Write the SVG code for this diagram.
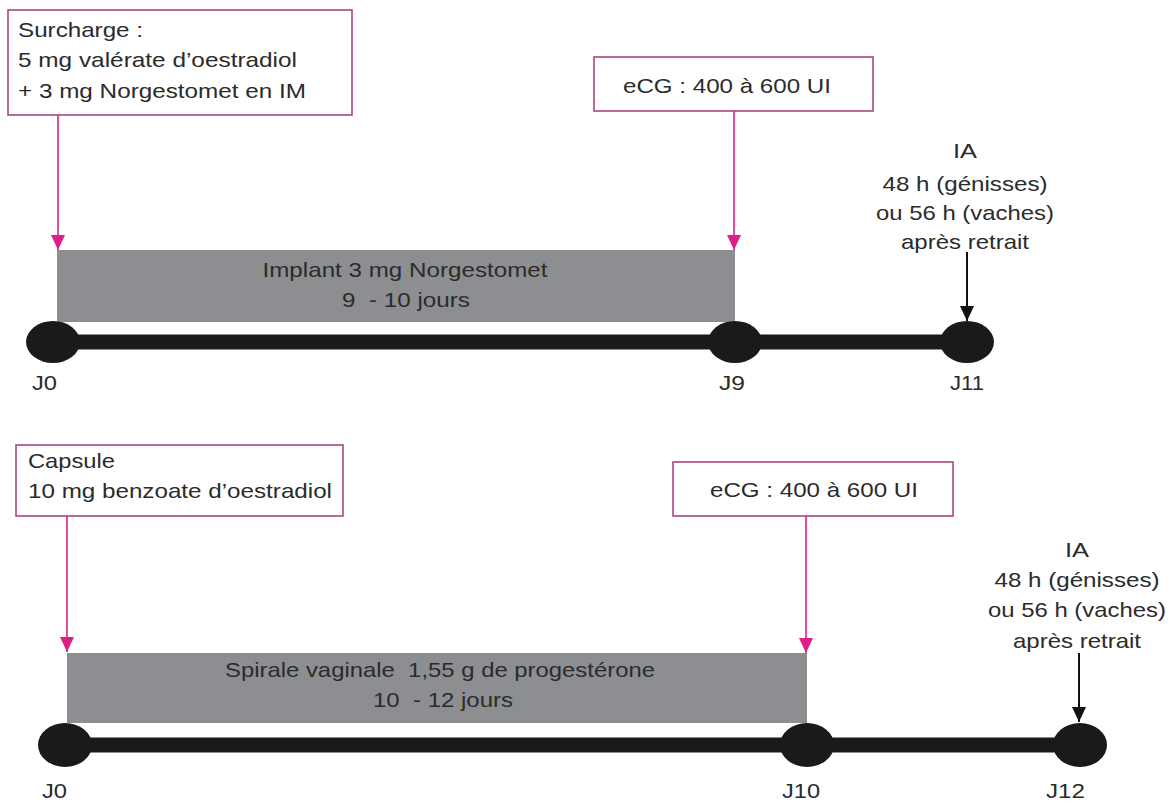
<svg xmlns="http://www.w3.org/2000/svg" width="1175" height="805" viewBox="0 0 1175 805">
<style>
text { font-family: "Liberation Sans", Arial, sans-serif; font-size: 21px; fill: #2b2b2b; white-space: pre; }
.lbl { font-size: 20px; }
.box { fill: #ffffff; stroke: #a9467f; stroke-width: 1.6; }
.bar { fill: #8d8e91; }
.pink { stroke: #df1f88; stroke-width: 1.6; fill: none; }
.blk { stroke: #111111; stroke-width: 2; fill: none; }
.axis { stroke: #1a1a1a; stroke-width: 15; }
.dot { fill: #1a1a1a; }
</style>
<defs>
<marker id="ap" markerUnits="userSpaceOnUse" markerWidth="14" markerHeight="16" refX="7" refY="15" viewBox="0 0 14 16">
<path d="M0,0 L14,0 L7,15 Z" fill="#df1f88"/>
</marker>
<marker id="ab" markerUnits="userSpaceOnUse" markerWidth="14" markerHeight="16" refX="7" refY="15" viewBox="0 0 14 16">
<path d="M0,0 L14,0 L7,15 Z" fill="#111111"/>
</marker>
</defs>
<rect width="1175" height="805" fill="#ffffff"/>

<!-- Top protocol -->
<g id="surcharge">
<rect class="box" x="8" y="10" width="344" height="105"/>
<text x="18" y="37" textLength="125" lengthAdjust="spacingAndGlyphs">Surcharge :</text>
<text x="18" y="67" textLength="279" lengthAdjust="spacingAndGlyphs">5 mg valérate d’oestradiol</text>
<text x="18" y="98" textLength="288" lengthAdjust="spacingAndGlyphs">+ 3 mg Norgestomet en IM</text>
</g>
<g id="ecg1">
<rect class="box" x="594" y="57" width="279" height="54"/>
<text x="727" y="93" text-anchor="middle" textLength="208" lengthAdjust="spacingAndGlyphs">eCG : 400 à 600 UI</text>
</g>
<g id="implant">
<rect class="bar" x="57" y="250" width="678" height="72"/>
<text x="405" y="277" text-anchor="middle" textLength="285" lengthAdjust="spacingAndGlyphs">Implant 3 mg Norgestomet</text>
<text x="406" y="307" text-anchor="middle" textLength="128" lengthAdjust="spacingAndGlyphs">9  - 10 jours</text>
</g>
<g id="ia1">
<text x="965" y="158" text-anchor="middle" textLength="24" lengthAdjust="spacingAndGlyphs">IA</text>
<text x="965" y="191" text-anchor="middle" textLength="165" lengthAdjust="spacingAndGlyphs">48 h (génisses)</text>
<text x="965" y="220" text-anchor="middle" textLength="178" lengthAdjust="spacingAndGlyphs">ou 56 h (vaches)</text>
<text x="965" y="249" text-anchor="middle" textLength="128" lengthAdjust="spacingAndGlyphs">après retrait</text>
</g>
<g id="timeline1">
<line class="axis" x1="53" y1="342" x2="967" y2="342"/>
<ellipse class="dot" cx="53" cy="342" rx="27" ry="21"/>
<ellipse class="dot" cx="735" cy="342" rx="27" ry="21"/>
<ellipse class="dot" cx="967" cy="342" rx="27" ry="21"/>
<text class="lbl" x="32" y="390" textLength="25" lengthAdjust="spacingAndGlyphs">J0</text>
<text class="lbl" x="719" y="390" textLength="26" lengthAdjust="spacingAndGlyphs">J9</text>
<text class="lbl" x="950" y="390" textLength="34" lengthAdjust="spacingAndGlyphs">J11</text>
</g>

<!-- Bottom protocol -->
<g id="capsule">
<rect class="box" x="16" y="445" width="327" height="71"/>
<text x="28" y="468" textLength="87" lengthAdjust="spacingAndGlyphs">Capsule</text>
<text x="28" y="498" textLength="304" lengthAdjust="spacingAndGlyphs">10 mg benzoate d’oestradiol</text>
</g>
<g id="ecg2">
<rect class="box" x="673" y="462" width="280" height="54"/>
<text x="814" y="497" text-anchor="middle" textLength="208" lengthAdjust="spacingAndGlyphs">eCG : 400 à 600 UI</text>
</g>
<g id="spirale">
<rect class="bar" x="67" y="653" width="740" height="70"/>
<text x="440" y="677" text-anchor="middle" textLength="430" lengthAdjust="spacingAndGlyphs">Spirale vaginale  1,55 g de progestérone</text>
<text x="443" y="707" text-anchor="middle" textLength="140" lengthAdjust="spacingAndGlyphs">10  - 12 jours</text>
</g>
<g id="ia2">
<text x="1077" y="557" text-anchor="middle" textLength="24" lengthAdjust="spacingAndGlyphs">IA</text>
<text x="1077" y="587" text-anchor="middle" textLength="165" lengthAdjust="spacingAndGlyphs">48 h (génisses)</text>
<text x="1077" y="617" text-anchor="middle" textLength="178" lengthAdjust="spacingAndGlyphs">ou 56 h (vaches)</text>
<text x="1077" y="648" text-anchor="middle" textLength="128" lengthAdjust="spacingAndGlyphs">après retrait</text>
</g>
<g id="timeline2">
<line class="axis" x1="65" y1="745" x2="1080" y2="745"/>
<ellipse class="dot" cx="65" cy="745" rx="27" ry="22"/>
<ellipse class="dot" cx="807" cy="745" rx="27" ry="22"/>
<ellipse class="dot" cx="1080" cy="745" rx="27" ry="22"/>
<text class="lbl" x="42" y="798" textLength="25" lengthAdjust="spacingAndGlyphs">J0</text>
<text class="lbl" x="782" y="798" textLength="38" lengthAdjust="spacingAndGlyphs">J10</text>
<text class="lbl" x="1046" y="798" textLength="39" lengthAdjust="spacingAndGlyphs">J12</text>
</g>

<g id="connectors">
<line class="pink" x1="58" y1="115" x2="58" y2="250" marker-end="url(#ap)"/>
<line class="pink" x1="734" y1="111" x2="734" y2="250" marker-end="url(#ap)"/>
<line class="blk" x1="967" y1="252" x2="967" y2="321" marker-end="url(#ab)"/>
<line class="pink" x1="67" y1="516" x2="67" y2="652" marker-end="url(#ap)"/>
<line class="pink" x1="806" y1="516" x2="806" y2="653" marker-end="url(#ap)"/>
<line class="blk" x1="1079" y1="653" x2="1079" y2="722" marker-end="url(#ab)"/>
</g>
</svg>
